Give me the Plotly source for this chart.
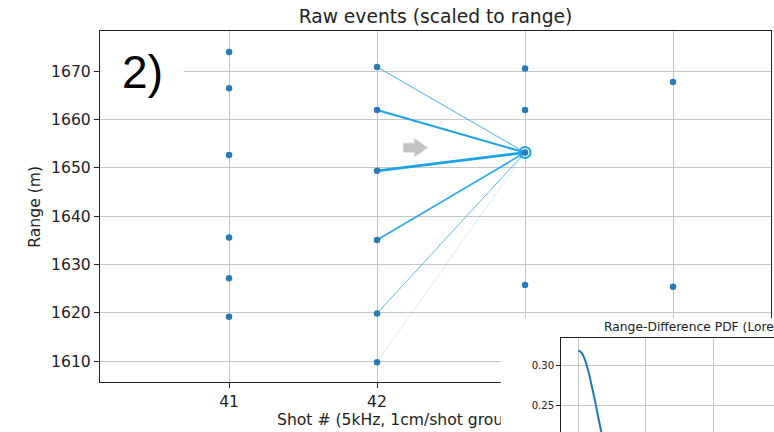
import plotly.graph_objects as go

# ---------------- data ----------------
shots_41 = [1674.0, 1666.5, 1652.7, 1635.6, 1627.2, 1619.2]
shots_42 = [1670.9, 1662.0, 1649.4, 1635.1, 1619.9, 1609.8]
shots_43 = [1670.6, 1662.0, 1653.2, 1625.8]
shots_44 = [1667.8, 1625.4]
shot_numbers = [41, 42, 43, 44]

target_shot = 43
target_range = 1653.2
link_widths = [1.0, 2.0, 2.6, 1.7, 1.0, 0.6]
link_opacity = [0.8, 1.0, 1.0, 0.9, 0.7, 0.3]

pdf_dr = [0, 0.1, 0.2, 0.3, 0.4, 0.5, 0.6, 0.7, 0.8, 1.0, 1.25, 1.5, 2, 2.5, 3, 4, 5, 6, 8, 10]
pdf_val = [0.318, 0.315, 0.306, 0.292, 0.274, 0.255, 0.234, 0.214, 0.194, 0.159, 0.124, 0.098,
           0.064, 0.044, 0.032, 0.019, 0.012, 0.0086, 0.0049, 0.0032]

main_ticks = [41, 42, 43, 44]
main_tick_text = ["41", "42", "", ""]   # 43 / 44 labels are hidden under the inset panel
range_ticks = [1610, 1620, 1630, 1640, 1650, 1660, 1670]

W, H = 774, 432
FONT = "DejaVu Sans"
TXT = "#222222"
DOT = "#2a7ab5"
LINK = "#1ca2e8"

fig = go.Figure()

# links from shot 42 events to the highlighted event on shot 43
for r, w, a in zip(shots_42, link_widths, link_opacity):
    fig.add_trace(go.Scatter(x=[42, target_shot], y=[r, target_range], mode="lines",
                             line=dict(color=LINK, width=w), opacity=a,
                             hoverinfo="skip", showlegend=False))

# raw events
for s, vals in zip(shot_numbers, [shots_41, shots_42, shots_43, shots_44]):
    fig.add_trace(go.Scatter(x=[s] * len(vals), y=vals, mode="markers",
                             marker=dict(color=DOT, size=6.5), showlegend=False))

# highlight ring
fig.add_trace(go.Scatter(x=[target_shot], y=[target_range], mode="markers",
                         marker=dict(symbol="circle-open", size=11, color=LINK,
                                     line=dict(width=2, color=LINK)),
                         showlegend=False))

# x-axis title, drawn in a lower helper subplot so the inset panel can cover it
fig.add_trace(go.Scatter(x=[277 / W], y=[(H - 421) / 40], mode="text",
                         xaxis="x2", yaxis="y2",
                         text=["Shot # (5kHz, 1cm/shot groups)"],
                         textposition="middle right",
                         textfont=dict(family=FONT, size=15.6, color=TXT),
                         marker=dict(size=1),
                         cliponaxis=False, showlegend=False, hoverinfo="skip"))

# white panel behind the inset
fig.add_trace(go.Scatter(x=[], y=[], xaxis="x3", yaxis="y3", showlegend=False))

# inset PDF curve
fig.add_trace(go.Scatter(x=pdf_dr, y=pdf_val, mode="lines", xaxis="x4", yaxis="y4",
                         line=dict(color="#1f77b4", width=2, shape="spline"),
                         showlegend=False))

# gray arrow (decoration)
ax0, ax1, atip, ayc, ash, ahd = 42.178, 42.252, 42.343, 1654.2, 0.93, 1.9
fig.add_shape(type="path", xref="x", yref="y",
              path=(f"M{ax0},{ayc+ash} L{ax1},{ayc+ash} L{ax1},{ayc+ahd} L{atip},{ayc} "
                    f"L{ax1},{ayc-ahd} L{ax1},{ayc-ash} L{ax0},{ayc-ash} Z"),
              fillcolor="#c2c2c2", line=dict(width=0.6, color="#c8d6e2"))

grid = "#c6c6c6"
fig.update_layout(
    width=W, height=H,
    margin=dict(l=0, r=0, t=0, b=0),
    paper_bgcolor="white", plot_bgcolor="white",
    font=dict(family=FONT, color=TXT, size=15.6),
    title=dict(text="Raw events (scaled to range)", x=435.5 / W, xanchor="center",
               y=1 - 16 / H, yanchor="middle", font=dict(size=18.7, family=FONT, color=TXT)),
    xaxis=dict(domain=[100 / W, 771 / W], range=[40.128, 44.662],
               tickvals=main_ticks, ticktext=main_tick_text,
               ticks="outside", ticklen=5, tickwidth=1.2, tickcolor=TXT,
               showline=True, linecolor=TXT, linewidth=1.25, mirror=True,
               showgrid=True, gridcolor=grid, gridwidth=1.4, zeroline=False,
               anchor="y", tickfont=dict(size=15.6)),
    yaxis=dict(domain=[1 - 382.3 / H, 1 - 31 / H], range=[1605.65, 1678.34],
               tickvals=range_ticks, ticks="outside", ticklen=5, tickwidth=1.2, tickcolor=TXT,
               showline=True, linecolor=TXT, linewidth=1.25, mirror=True,
               showgrid=True, gridcolor=grid, gridwidth=1.4, zeroline=False,
               anchor="x", tickfont=dict(size=15.6)),
    xaxis2=dict(domain=[0, 1], anchor="y2", visible=False, range=[0, 1]),
    yaxis2=dict(domain=[0, 40 / H], anchor="x2", visible=False, range=[0, 1]),
    xaxis3=dict(domain=[500.7 / W, 1], anchor="y3", visible=False, range=[0, 1]),
    yaxis3=dict(domain=[0, 1 - 318.3 / H], anchor="x3", visible=False, range=[0, 1]),
    xaxis4=dict(domain=[561 / W, 1], anchor="y4", range=[-0.513, 5.80],
                tickvals=[0, 2, 4, 6, 8, 10], showticklabels=False, ticks="",
                side="top", showline=True, linecolor=TXT, linewidth=1.25,
                showgrid=True, gridcolor=grid, gridwidth=1.2, zeroline=False),
    yaxis4=dict(domain=[0, 1 - 338.3 / H], anchor="x4", range=[0.2177, 0.3328],
                tickvals=[0.20, 0.25, 0.30], tickformat=".2f", ticks="outside", ticklen=3.5,
                tickwidth=1, tickcolor=TXT, showline=True, linecolor=TXT, linewidth=1.25,
                showgrid=True, gridcolor=grid, gridwidth=1.2, zeroline=False,
                tickfont=dict(size=10.2)),
    annotations=[
        dict(text="2)", x=142.5 / W, y=1 - 72.4 / H, xref="paper", yref="paper",
             xanchor="center", yanchor="middle", showarrow=False,
             font=dict(family="Liberation Sans", size=46, color="black"),
             bgcolor="white", borderpad=4, borderwidth=1, bordercolor="rgba(0,0,0,0)",
             width=73),
        dict(text="Range (m)", x=35 / W, y=1 - 206.7 / H, xref="paper", yref="paper",
             xanchor="center", yanchor="middle", showarrow=False, textangle=-90,
             font=dict(family=FONT, size=15.6, color=TXT)),
        dict(text="Range-Difference PDF (Lorentzian)", x=601.7 / W, y=1 - 327.3 / H,
             xref="paper", yref="paper", xanchor="left", yanchor="middle", showarrow=False,
             font=dict(family=FONT, size=12.3, color=TXT)),
    ],
)

fig.write_html("out.html", config={"displayModeBar": False},
               post_script="document.body.style.margin='0px';document.body.style.overflow='hidden';")
